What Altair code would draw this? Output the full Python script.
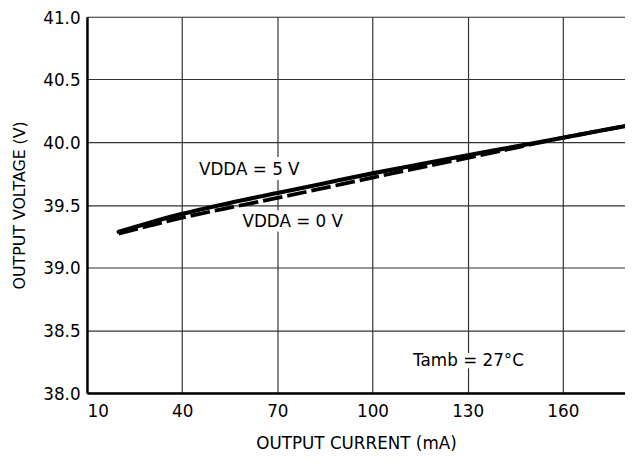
import altair as alt
import pandas as pd

# Data
current_ma = [20, 30, 40, 55, 70, 85, 100, 115, 130, 145, 160, 170, 180]
vdda_5v = [39.285, 39.36, 39.428, 39.515, 39.594, 39.673, 39.751, 39.824, 39.895, 39.965, 40.035, 40.083, 40.13]
vdda_0v = [39.27, 39.335, 39.397, 39.478, 39.555, 39.636, 39.717, 39.797, 39.874, 39.955, 40.035, 40.083, 40.13]

x_ticks = [10, 40, 70, 100, 130, 160]
y_ticks = [38.0, 38.5, 39.0, 39.5, 40.0, 40.5, 41.0]

note_text = ["VDDA = 5 V", "VDDA = 0 V", "Tamb = 27°C"]
note_x = [45.3, 59, 112.8]
note_y = [39.78, 39.36, 38.25]

FONT = "DejaVu Sans"
FS = 17

df5 = pd.DataFrame({"I": current_ma, "V": vdda_5v})
df0 = pd.DataFrame({"I": current_ma, "V": vdda_0v})
notes = pd.DataFrame({"I": note_x, "V": note_y, "t": note_text})

xscale = alt.Scale(domain=[10, 179.6], nice=False, zero=False)
yscale = alt.Scale(domain=[38.0, 41.0], nice=False, zero=False)

xaxis = alt.Axis(
    title="OUTPUT CURRENT (mA)", values=x_ticks, format="d",
    grid=True, gridColor="#333333", gridWidth=1.2,
    ticks=False, tickSize=0, labelPadding=11, labelFlush=True,
    domainColor="black", domainWidth=2.5,
    labelFont=FONT, labelFontSize=FS, labelColor="black",
    titleFont=FONT, titleFontSize=FS, titleFontWeight="normal", titleColor="black",
    titlePadding=16,
)
yaxis = alt.Axis(
    title="OUTPUT VOLTAGE (V)", values=y_ticks, format=".1f",
    grid=True, gridColor="#333333", gridWidth=1.2,
    ticks=False, tickSize=0, labelPadding=7, labelOffset=1.5,
    domainColor="black", domainWidth=2.5,
    labelFont=FONT, labelFontSize=FS, labelColor="black",
    titleFont=FONT, titleFontSize=16, titleFontWeight="normal", titleColor="black",
    titlePadding=15,
)

base_axes = alt.Chart(df5).mark_point(opacity=0).encode(
    x=alt.X("I:Q", scale=xscale, axis=xaxis),
    y=alt.Y("V:Q", scale=yscale, axis=yaxis),
)

halo = alt.Chart(notes).mark_text(
    align="left", baseline="middle", font=FONT, fontSize=FS,
    stroke="white", strokeWidth=10, strokeJoin="round", fill="white",
).encode(x=alt.X("I:Q", scale=xscale), y=alt.Y("V:Q", scale=yscale), text="t:N")

line5 = alt.Chart(df5).mark_line(
    color="black", strokeWidth=4.2, interpolate="monotone", clip=True, strokeCap="round"
).encode(x=alt.X("I:Q", scale=xscale), y=alt.Y("V:Q", scale=yscale))

line0 = alt.Chart(df0).mark_line(
    color="black", strokeWidth=3.8, interpolate="monotone", clip=True,
    strokeDash=[20, 5],
).encode(x=alt.X("I:Q", scale=xscale), y=alt.Y("V:Q", scale=yscale))

text = alt.Chart(notes).mark_text(
    align="left", baseline="middle", font=FONT, fontSize=FS, color="black",
).encode(x=alt.X("I:Q", scale=xscale), y=alt.Y("V:Q", scale=yscale), text="t:N")

chart = alt.layer(base_axes, halo, line5, line0, text).properties(
    width=545, height=381,
    autosize=alt.AutoSizeParams(type="none"),
    padding={"left": 80, "top": 6, "right": 0, "bottom": 60},
).configure_view(stroke=None).configure(background="white")

chart.save("out.html", embed_options={"renderer": "svg", "actions": False})
